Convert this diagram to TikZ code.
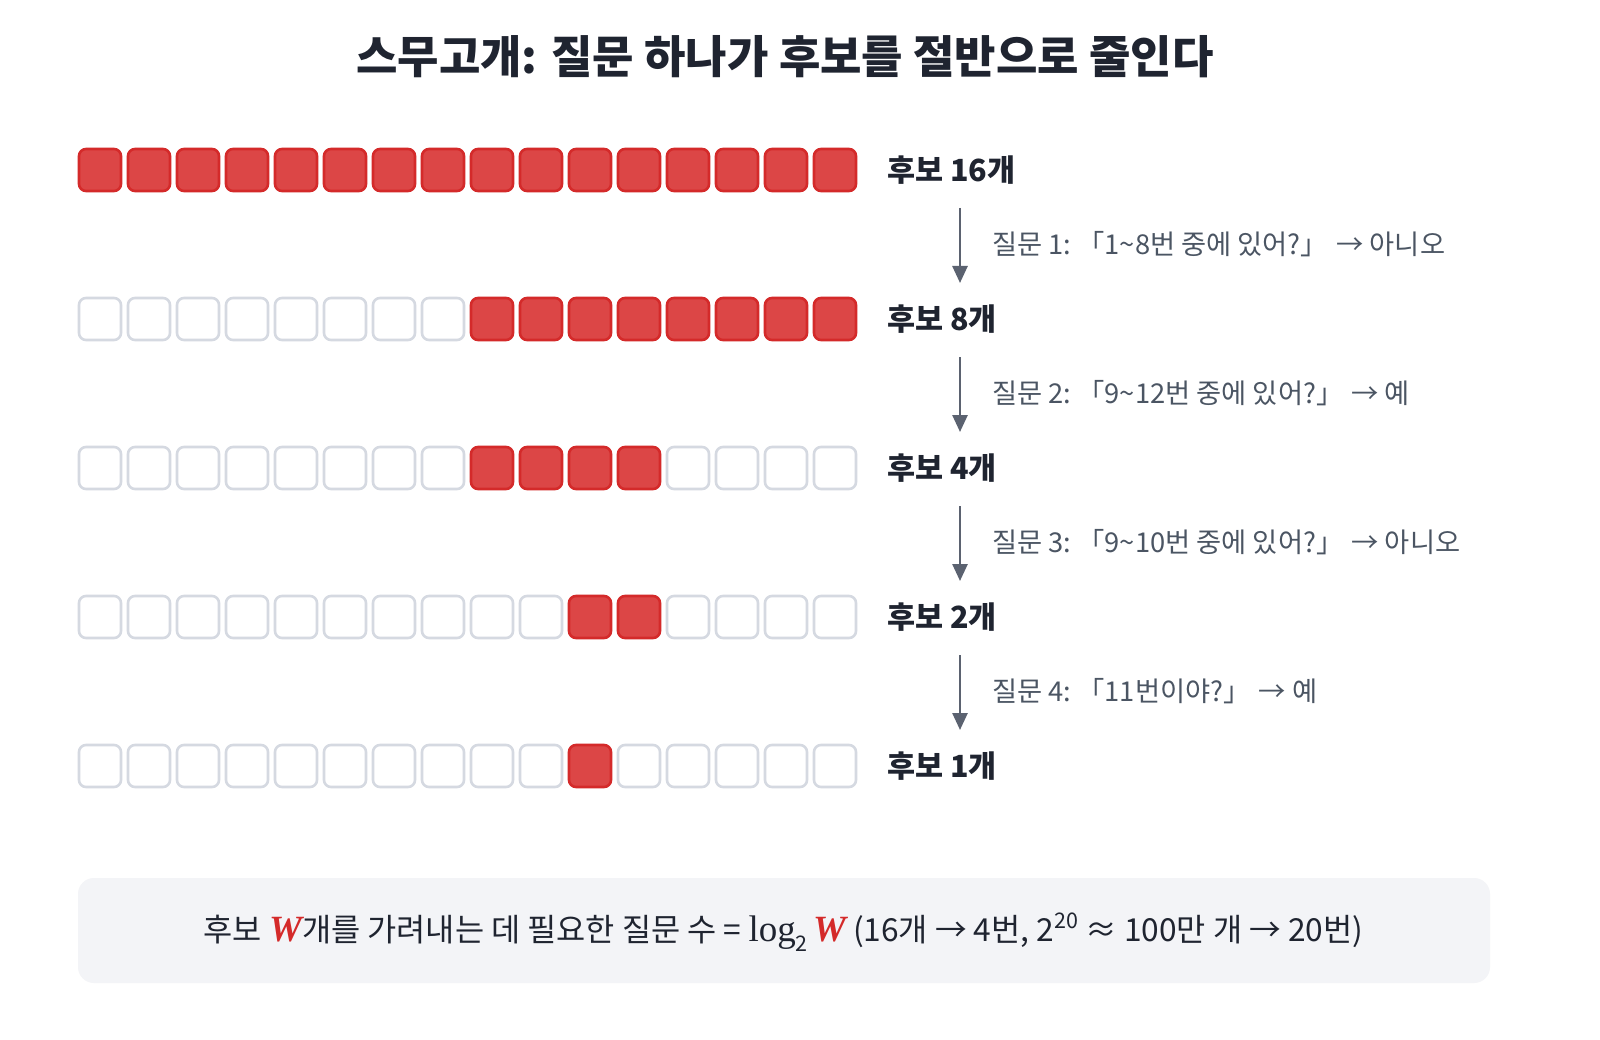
\documentclass[tikz,border=0pt]{standalone}
\usepackage{fontspec}
\setmainfont{Noto Sans CJK KR}
\newfontfamily\serifw{Liberation Serif}
\usetikzlibrary{arrows.meta}
\definecolor{redfill}{HTML}{DC4646}
\definecolor{redline}{HTML}{D42A2A}
\definecolor{emptyline}{HTML}{D5D9E1}
\definecolor{arrowgray}{HTML}{5B6270}
\definecolor{darktext}{HTML}{1F2430}
\definecolor{qtext}{HTML}{4B5563}
\definecolor{boxfill}{HTML}{F3F4F7}
\definecolor{wred}{HTML}{D42A2A}
\tikzset{
  cell/.style={minimum width=42pt, minimum height=42pt, inner sep=0pt, rounded corners=7pt, line width=2.6pt},
  full/.style={cell, draw=redline, fill=redfill},
  empty/.style={cell, draw=emptyline, fill=white},
  rowlabel/.style={anchor=west, inner sep=0pt, font=\fontsize{30.5}{34}\selectfont\bfseries, text=darktext},
  question/.style={anchor=west, inner sep=0pt, font=\fontsize{27.3}{30}\selectfont, text=qtext},
  stepline/.style={draw=arrowgray, line width=2.6pt, -{Triangle[length=17pt,width=15pt]}},
}
\newcommand{\WW}{{\serifw\fontsize{37}{39}\selectfont\bfseries\itshape\textcolor{wred}{W}}}
\begin{document}
\begin{tikzpicture}[x=1pt,y=-1pt]
\useasboundingbox[fill=white] (0,0) rectangle (1600,1040);
\node[inner sep=0pt, font=\fontsize{45}{50}\selectfont\bfseries, text=darktext] (title) at (785,57) {스무고개: 질문 하나가 후보를 절반으로 줄인다};
\foreach \r/\a/\b/\lab in {0/0/15/{후보 16개},1/8/15/{후보 8개},2/8/11/{후보 4개},3/10/11/{후보 2개},4/10/10/{후보 1개}}{
  \foreach \i in {0,...,15}{
    \pgfmathtruncatemacro{\isfull}{(\i>=\a)&&(\i<=\b)}
    \ifnum\isfull=1
      \node[full] (s-\r-\i) at ({100+49*\i},{170+149*\r}) {};
    \else
      \node[empty] (s-\r-\i) at ({100+49*\i},{170+149*\r}) {};
    \fi
  }
  \node[rowlabel] (lab-\r) at (887,{170+149*\r}) {\lab};
}
\foreach \r/\q in {0/{질문 1:\ 「1\textasciitilde 8번 중에 있어?」 → 아니오},1/{질문 2:\ 「9\textasciitilde 12번 중에 있어?」 → 예},2/{질문 3:\ 「9\textasciitilde 10번 중에 있어?」 → 아니오},3/{질문 4:\ 「11번이야?」 → 예}}{
  \coordinate (top-\r) at (960,{208+149*\r});
  \coordinate (bot-\r) at (960,{283+149*\r});
  \draw[stepline] (top-\r) -- (bot-\r);
  \node[question] (q-\r) at (992,{244+149*\r}) {\q};
}
\node[draw=none, fill=boxfill, rounded corners=16pt, minimum width=1412pt, minimum height=105pt, inner sep=0pt] (box) at (784,930.5) {};
\node[inner sep=0pt, font=\fontsize{31.7}{35}\selectfont, text=darktext] (formula) at (783.5,932) {후보 \WW 개를 가려내는 데 필요한 질문 수 = {\serifw\fontsize{37}{39}\selectfont log}\raisebox{-10pt}{\fontsize{21.5}{23}\selectfont 2}\,\WW\ (16개 → 4번, 2\raisebox{13pt}{\fontsize{21.5}{23}\selectfont 20} ≈ 100만 개 → 20번)};
\end{tikzpicture}
\end{document}
